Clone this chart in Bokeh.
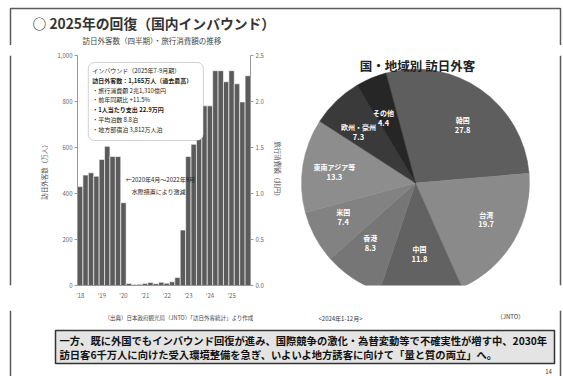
import numpy as np
from bokeh.plotting import figure
from bokeh.layouts import column, row
from bokeh.models import (Range1d, LinearAxis, FixedTicker, BoxAnnotation, Label,
                          ColumnDataSource, NumeralTickFormatter)
from bokeh.embed import file_html
from bokeh.resources import INLINE
from bokeh.core.properties import value

FONT = "Noto Sans CJK JP"

# ---------------- data ----------------
year_labels = ["'18", "'19", "'20", "'21", "'22", "'23", "'24", "'25"]
visitors_q = [430, 480, 490, 475, 548, 605, 561, 561, 360,
              9, 4, 5, 9, 13, 8, 14, 10, 16, 35,
              241, 561, 614, 693, 781, 781, 934, 934, 886, 934, 877, 798, 912]
left_ticks = [0, 200, 400, 600, 800, 1000]
right_ticks = [0, 0.5, 1.0, 1.5, 2.0, 2.5]

regions = ["韓国", "台湾", "中国", "香港", "米国", "東南アジア等", "欧州・豪州", "その他"]
shares = [27.8, 19.7, 11.8, 8.3, 7.4, 13.3, 7.3, 4.4]
pie_colors = ["#5e5e5e", "#8a8a8a", "#626262", "#767676", "#828282", "#8d8d8d", "#3a3a3a", "#262626"]

callout_lines = ["インバウンド（2025年7-9月期）",
                 "訪日外客数：1,165万人（過去最高）",
                 "・旅行消費額 2兆1,310億円",
                 "・前年同期比 +11.5%",
                 "・1人当たり支出 22.9万円",
                 "・平均泊数 8.8泊",
                 "・地方部宿泊 3,812万人泊"]

FRAME = "#5a5a5a"
TOP_H = 45
MID_H = 310 - TOP_H


def canvas(w, h, x0, y0):
    p = figure(width=w, height=h, x_range=Range1d(x0, x0 + w), y_range=Range1d(-(y0 + h), -y0),
               x_axis_type=None, y_axis_type=None, output_backend="svg",
               toolbar_location=None, min_border=0, title=None)
    p.outline_line_color = None
    p.background_fill_color = "white"
    p.border_fill_color = "white"
    p.grid.visible = False
    return p


def lab(p, x, y, text, size, color="#222", bold=False, align="left", baseline="middle"):
    p.add_layout(Label(x=x, y=-y, text=text, text_font=FONT, text_font_size=f"{size}px",
                       text_font_style="bold" if bold else "normal", text_color=color,
                       text_align=align, text_baseline=baseline))


# ---------------- top band ----------------
top = canvas(563, TOP_H, 0, 0)
top.line(x=[10, 10, 560, 560], y=[-TOP_H, -8, -8, -TOP_H], line_color=FRAME, line_width=1.5)
lab(top, 32, 22, "○ 2025年の回復（国内インバウンド）", 13.8, "#333", True)
lab(top, 82, 40, "訪日外客数（四半期）・旅行消費額の推移", 7.5, "#444")

# ---------------- left strip ----------------
strip = canvas(20, MID_H, 0, TOP_H)
strip.line(x=[10, 10], y=[-TOP_H, -310], line_color=FRAME, line_width=1.5)

# ---------------- bar chart ----------------
bar = figure(width=265, height=MID_H, x_range=Range1d(-0.5, len(visitors_q) - 0.5),
             y_range=Range1d(left_ticks[0], left_ticks[-1]),
             output_backend="svg", toolbar_location=None, title=None,
             min_border_left=57, min_border_right=32, min_border_top=55 - TOP_H,
             min_border_bottom=25)
bar.outline_line_color = None
bar.background_fill_color = "white"
bar.border_fill_color = "white"
bar.grid.visible = False
src = ColumnDataSource(dict(x=list(range(len(visitors_q))), top=visitors_q))
bar.vbar(x="x", top="top", width=1.0, source=src, fill_color="#5b5b5b",
         line_color="white", line_width=0.6)

bar.xaxis.ticker = FixedTicker(ticks=list(range(0, len(visitors_q), 4)))
bar.xaxis.major_label_overrides = {i * 4: s for i, s in enumerate(year_labels)}
bar.yaxis.ticker = FixedTicker(ticks=left_ticks)
bar.yaxis.formatter = NumeralTickFormatter(format="0,0")
bar.yaxis.axis_label = "訪日外客数（万人）"
bar.extra_y_ranges = {"yen": Range1d(right_ticks[0], right_ticks[-1])}
ax2 = LinearAxis(y_range_name="yen", ticker=FixedTicker(ticks=right_ticks),
                 formatter=NumeralTickFormatter(format="0.0"), axis_label="旅行消費額（兆円）")
bar.add_layout(ax2, "right")
for ax in bar.xaxis + bar.yaxis + [ax2]:
    ax.major_label_text_font = FONT
    ax.major_label_text_font_size = "6px"
    ax.major_label_text_color = "#666"
    ax.axis_label_text_font = FONT
    ax.axis_label_text_font_size = "6.5px"
    ax.axis_label_text_font_style = "normal"
    ax.axis_label_text_color = "#555"
    ax.axis_label_standoff = 6
    ax.major_label_standoff = 2
    ax.axis_line_color = "#999"
    ax.major_tick_line_color = "#999"
    ax.major_tick_out = 3
    ax.major_tick_in = 0
    ax.minor_tick_line_color = None
bar.xaxis.major_tick_line_color = None


def bx(px):
    return (px - 77) / 5.5 - 0.5


def by(py):
    return (285 - py) * 1000 / 230


bar.add_layout(BoxAnnotation(left=bx(88), right=bx(205), top=by(62), bottom=by(140),
                             fill_color="white", fill_alpha=1, line_color="#666",
                             line_width=1, border_radius=6))
for i, t in enumerate(callout_lines):
    bar.add_layout(Label(x=bx(92), y=by(70 + i * 9.8), text=t, text_font=FONT,
                         text_font_size="6px", text_color="#222",
                         text_font_style="bold" if i in (1, 4) else "normal",
                         text_baseline="middle"))
for i, t in enumerate(["←2020年4月〜2022年9月", "　水際措置により激減"]):
    bar.add_layout(Label(x=bx(126), y=by(179 + i * 12), text=t, text_font=FONT,
                         text_font_size="6px", text_color="#222", text_baseline="middle"))

# ---------------- pie ----------------
pie = canvas(278, MID_H, 285, TOP_H)
pie.line(x=[560, 560], y=[-TOP_H, -310], line_color=FRAME, line_width=1.5)
lab(pie, 417, 46, "国・地域別 訪日外客", 12.5, "#222", True, "center", "top")
cx, cy, R = 415, 192, 114
sh = np.array(shares)
cum = np.concatenate([[0.0], np.cumsum(sh)])
a_deg = 105 - 3.6 * cum[:-1]
b_deg = 105 - 3.6 * cum[1:]
psrc = ColumnDataSource(dict(s=np.radians(b_deg), e=np.radians(a_deg), c=pie_colors))
pie.wedge(x=cx, y=-cy, radius=R, start_angle="s", end_angle="e", source=psrc,
          fill_color="c", line_color="c", line_width=0.5, direction="anticlock")
mid = np.radians((a_deg + b_deg) / 2)
rr = R * 0.72
lx = cx + rr * np.cos(mid)
ly = -cy + rr * np.sin(mid)
lsrc = ColumnDataSource(dict(x=lx, yn=ly + 5.5, yv=ly - 6, n=regions,
                             v=[f"{v:.1f}" for v in shares]))
pie.text(x="x", y="yn", text="n", source=lsrc, text_font=value(FONT), text_font_size="7px",
         text_font_style="bold", text_color="white", text_align="center", text_baseline="middle")
pie.text(x="x", y="yv", text="v", source=lsrc, text_font=value(FONT), text_font_size="7.5px",
         text_font_style="bold", text_color="white", text_align="center", text_baseline="middle")

# ---------------- bottom band ----------------
bot = canvas(563, 66, 0, 310)
bot.line(x=[10, 10], y=[-310, -376], line_color=FRAME, line_width=1.5)
bot.line(x=[560, 560], y=[-310, -376], line_color=FRAME, line_width=1.5)
lab(bot, 104, 317, "（出典）日本政府観光局（JNTO）「訪日外客統計」より作成", 5.5, "#444")
lab(bot, 340, 318, "<2024年1-12月>", 6, "#333", False, "center")
lab(bot, 510, 316, "（JNTO）", 6, "#333", False, "center")
bot.quad(left=[55], right=[554], top=[-330], bottom=[-363], fill_color="#e4e4e4",
         line_color="#333", line_width=1.5)
lab(bot, 59, 339.5, "一方、既に外国でもインバウンド回復が進み、国際競争の激化・為替変動等で不確実性が増す中、2030年",
    10.3, "#111", True)
lab(bot, 59, 353.5, "訪日客6千万人に向けた受入環境整備を急ぎ、いよいよ地方誘客に向けて「量と質の両立」へ。",
    10.3, "#111", True)
lab(bot, 548, 371, "14", 6, "#333", False, "center")

layout = column(top, row(strip, bar, pie), bot)
open("out.html", "w").write(file_html(layout, INLINE))
